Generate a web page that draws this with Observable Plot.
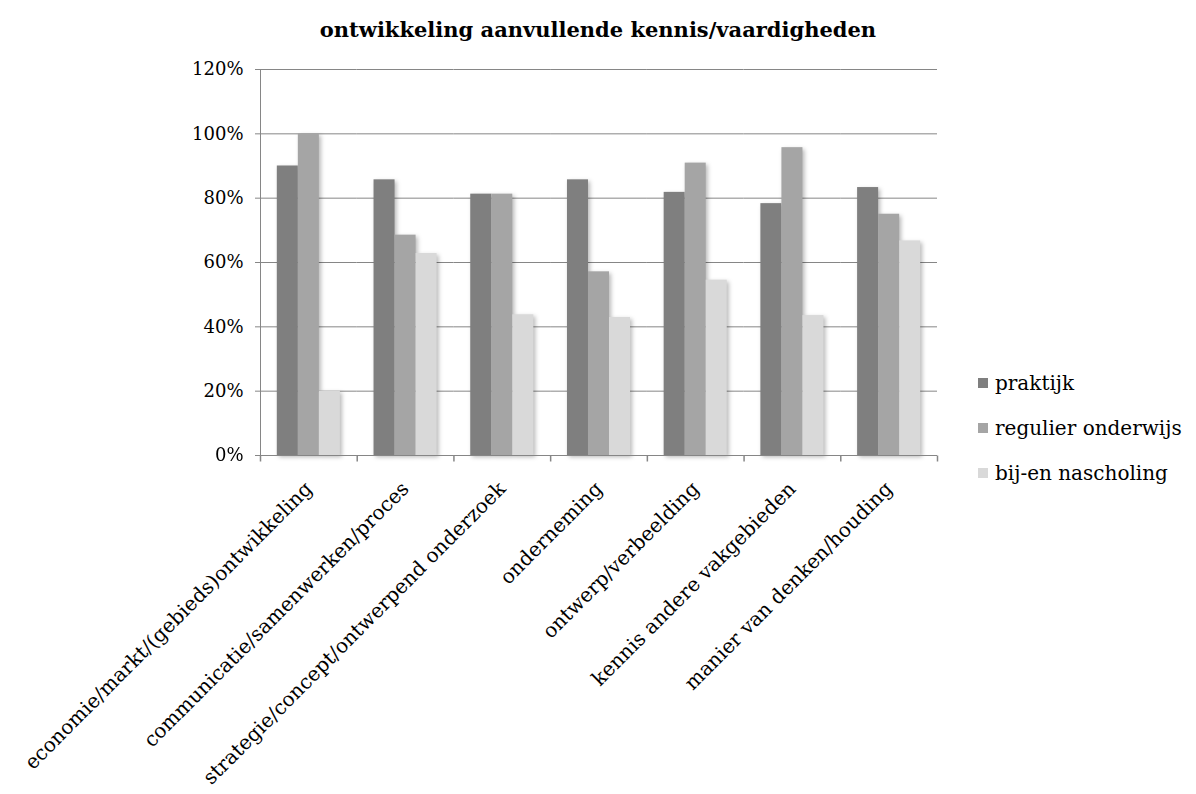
<!DOCTYPE html>
<html>
<head>
<meta charset="utf-8">
<script src="https://cdn.jsdelivr.net/npm/d3@7"></script>
<script src="https://cdn.jsdelivr.net/npm/@observablehq/plot@0.6"></script>
<style>
  body { margin: 0; background: #fff; font-family: "DejaVu Serif", serif; }
  #wrap { position: relative; width: 1196px; height: 794px; overflow: hidden; }
  #title { height: 50px; width: 1196px; text-align: center; font-weight: bold; font-size: 21px; line-height: 1; box-sizing: border-box; }
  #title span { display: inline-block; margin-top: 19px; }
  #chart svg { max-width: none; display: block; }
  #legend { position: absolute; left: 978px; top: 360px; font-size: 20px; color: #000; }
  #legend .row { display: flex; align-items: center; height: 45px; }
  #legend .sw { width: 10px; height: 10px; margin-right: 7px; }
  svg g[aria-label="bar"] { filter: drop-shadow(2px 2px 2px rgba(0,0,0,0.28)); }
</style>
</head>
<body>
<div id="wrap">
  <div id="title"><span>ontwikkeling aanvullende kennis/vaardigheden</span></div>
  <div id="chart"></div>
  <div id="legend"></div>
</div>
<script>
const categories = [
  "economie/markt/(gebieds)ontwikkeling",
  "communicatie/samenwerken/proces",
  "strategie/concept/ontwerpend onderzoek",
  "onderneming",
  "ontwerp/verbeelding",
  "kennis andere vakgebieden",
  "manier van denken/houding"
];
const series = ["praktijk", "regulier onderwijs", "bij-en nascholing"];
const praktijk = [90, 85.7, 81.25, 85.7, 81.8, 78.3, 83.3];
const regulierOnderwijs = [100, 68.5, 81.25, 57.1, 90.9, 95.7, 75];
const bijEnNascholing = [20, 62.8, 43.75, 42.9, 54.5, 43.5, 66.7];
const colors = ["#7f7f7f", "#a5a5a5", "#d9d9d9"];
const yTicks = [0, 20, 40, 60, 80, 100, 120];

const valuesBySeries = [praktijk, regulierOnderwijs, bijEnNascholing];
const data = categories.flatMap((c, i) =>
  series.map((s, j) => ({category: c, series: s, value: valuesBySeries[j][i]}))
);

const gray = "#868686";
const tickDown = {draw(ctx) { ctx.moveTo(0, 0); ctx.lineTo(0, 6); }};

const chart = Plot.plot({
  width: 1196,
  height: 744,
  marginLeft: 260,
  marginRight: 259,
  marginTop: 19,
  marginBottom: 339,
  style: {fontFamily: "DejaVu Serif", fontSize: "20px", color: "#000", background: "transparent", overflow: "visible"},
  fx: {domain: categories, padding: 0, round: false, label: null},
  x: {domain: series, paddingInner: 0, paddingOuter: 0.8, round: false, axis: null},
  y: {domain: [0, 120], label: null},
  color: {domain: series, range: colors},
  marks: [
    Plot.gridY(yTicks, {stroke: gray, strokeOpacity: 1, strokeWidth: 1}),
    Plot.barY(data, {fx: "category", x: "series", y: "value", fill: "series"}),
    Plot.ruleY([0], {stroke: gray, strokeWidth: 1}),
    Plot.frame({anchor: "left", stroke: gray, facet: "super"}),
    Plot.dot([0], {frameAnchor: "bottom-left", symbol: tickDown, stroke: gray, fill: "none"}),
    Plot.dot([0], {frameAnchor: "bottom-right", symbol: tickDown, stroke: gray, fill: "none", facet: "super"}),
    Plot.axisY(yTicks, {tickFormat: d => d + "%", tickSize: 5, tickPadding: 12, stroke: gray, fill: "#000", fontSize: 18, label: null}),
    Plot.axisFx({anchor: "bottom", tickRotate: -45, tickSize: 0, tickPadding: 30, dx: 0, label: null, fill: "#000", fontSize: 20})
  ]
});
document.getElementById("chart").appendChild(chart);

const legend = document.getElementById("legend");
series.forEach((s, j) => {
  const row = document.createElement("div");
  row.className = "row";
  const sw = document.createElement("div");
  sw.className = "sw";
  sw.style.background = colors[j];
  const label = document.createElement("span");
  label.textContent = s;
  row.appendChild(sw);
  row.appendChild(label);
  legend.appendChild(row);
});
</script>
</body>
</html>
